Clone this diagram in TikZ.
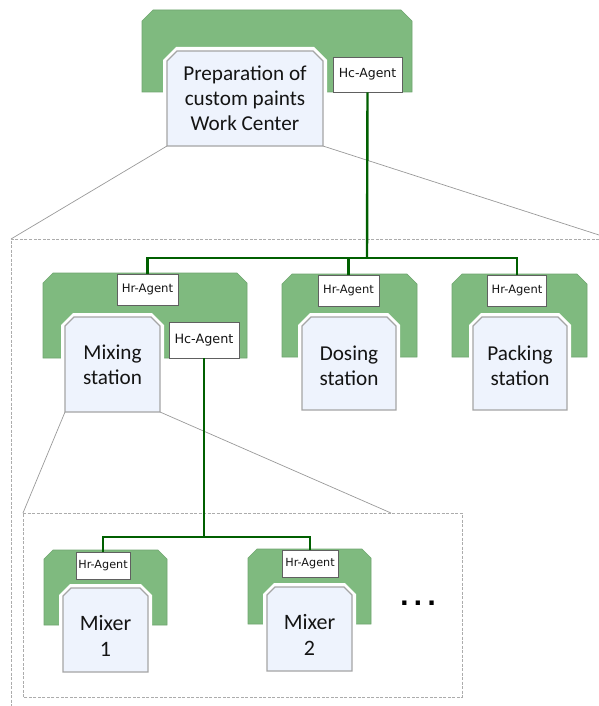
\documentclass[tikz,border=0pt]{standalone}
\usepackage{fontspec}
\setmainfont{Carlito}
\newfontfamily\agentfont{DejaVu Sans}
\newfontfamily\dotfont{DejaVu Sans}
\definecolor{grn}{RGB}{127,186,127}
\definecolor{grnedge}{RGB}{110,165,110}
\definecolor{dkgreen}{RGB}{0,95,0}
\definecolor{bfill}{RGB}{238,243,253}
\definecolor{bedge}{RGB}{165,165,165}
\definecolor{txt}{RGB}{20,20,20}
\newcommand\chamf[6]{\path[#1] (#2,#5) -- (#2,#3+#6) -- (#2+#6,#3) -- (#4-#6,#3) -- (#4,#3+#6) -- (#4,#5) -- cycle;}
\tikzset{
  greenbody/.style={fill=grn, draw=grnedge, line width=0.6},
  halo/.style={fill=white},
  bluebox/.style={fill=bfill, draw=bedge, line width=1.3},
  agent/.style={draw=gray!75!black, fill=white, line width=0.8, inner sep=0, text=txt},
  link/.style={draw=dkgreen, line width=2.4},
  label/.style={align=center, inner sep=0, text=txt},
  zoomline/.style={draw=gray!80, line width=0.7},
  zoombox/.style={draw=gray!65, dash pattern=on 3pt off 1.5pt, line width=0.8},
}
\begin{document}
\begin{tikzpicture}[x=1pt,y=-1pt]
\useasboundingbox (0,0) rectangle (599,706);
% zoom boxes
\coordinate (ob) at (11,239);
\coordinate (obr) at (599,239);
\coordinate (obb) at (11,706);
\draw[zoombox] (obr) -- (ob) -- (obb);
\coordinate (ib1) at (23,513);
\coordinate (ib2) at (462,513);
\coordinate (ib3) at (462,697);
\coordinate (ib4) at (23,697);
\draw[zoombox] (ib1) -- (ib2) -- (ib3) -- (ib4) -- cycle;
% ---------- top work center
\chamf{greenbody}{142}{10}{412}{92}{11}
\chamf{halo}{163}{47}{327}{150}{13}
\chamf{bluebox}{167}{51}{323}{146}{10}
\node[label, font=\fontsize{21.2}{25}\selectfont] (wc) at (245,98) {Preparation of\\custom paints\\Work Center};
\node[agent, minimum width=69, minimum height=35, font=\agentfont\fontsize{12.5}{14}\selectfont] (hc0) at (367.5,74.5) {Hc-Agent};
\coordinate (wcbl) at (167,146);
\coordinate (wcbr) at (323,146);
\coordinate (obx) at (599,235);
\draw[zoomline] (wcbl) -- (ob);
\draw[zoomline] (wcbr) -- (obx);
% ---------- mixing station
\chamf{greenbody}{43}{273}{247}{358}{10}
\chamf{halo}{61}{313}{164}{416}{12}
\chamf{bluebox}{65}{317}{160}{412}{9}
\node[label, font=\fontsize{21.2}{25}\selectfont] (ms) at (112.5,365) {Mixing\\station};
\node[agent, minimum width=61, minimum height=31, font=\agentfont\fontsize{11.7}{13}\selectfont] (hr1) at (147.5,289.5) {Hr-Agent};
\node[agent, minimum width=70, minimum height=36, font=\agentfont\fontsize{12.8}{14}\selectfont] (hc1) at (204,340) {Hc-Agent};
\coordinate (msbl) at (65,412);
\coordinate (msbr) at (160,412);
\draw[zoomline] (msbl) -- (ib1);
\coordinate (ibx) at (391,513);
\draw[zoomline] (msbr) -- (ibx);
% ---------- dosing station
\chamf{greenbody}{282}{274}{417}{357}{10}
\chamf{halo}{298}{313}{400}{414}{12}
\chamf{bluebox}{302}{317}{396}{410}{9}
\node[label, font=\fontsize{21.2}{25}\selectfont] (ds) at (349,366) {Dosing\\station};
\node[agent, minimum width=61, minimum height=31, font=\agentfont\fontsize{11.5}{13}\selectfont] (hr2) at (348.5,290.5) {Hr-Agent};
% ---------- packing station
\chamf{greenbody}{452}{274}{587}{357}{10}
\chamf{halo}{469}{313}{571}{414}{12}
\chamf{bluebox}{473}{317}{567}{410}{9}
\node[label, font=\fontsize{21.2}{25}\selectfont] (ps) at (520,366) {Packing\\station};
\node[agent, minimum width=59, minimum height=31, font=\agentfont\fontsize{11.5}{13}\selectfont] (hr3) at (517,290.5) {Hr-Agent};
% ---------- mixer 1
\chamf{greenbody}{44}{550}{167}{625}{9}
\chamf{halo}{59}{584}{152}{676}{11}
\chamf{bluebox}{63}{588}{148}{672}{8}
\node[label, font=\fontsize{22}{26}\selectfont] (m1) at (105.5,636) {Mixer\\1};
\node[agent, minimum width=54, minimum height=27, font=\agentfont\fontsize{11.2}{13}\selectfont] (hr4) at (103,565.5) {Hr-Agent};
% ---------- mixer 2
\chamf{greenbody}{248}{549}{371}{624}{9}
\chamf{halo}{263}{583}{356}{675}{11}
\chamf{bluebox}{267}{587}{352}{671}{8}
\node[label, font=\fontsize{22}{26}\selectfont] (m2) at (309.5,635) {Mixer\\2};
\node[agent, minimum width=56, minimum height=27, font=\agentfont\fontsize{11.2}{13}\selectfont] (hr5) at (310,563.5) {Hr-Agent};
% dots
\node[inner sep=0, font=\dotfont\bfseries\fontsize{24}{24}\selectfont] (dots) at (418,603) {.\hspace{4.5pt}.\hspace{4.5pt}.};
% ---------- connectors
\coordinate (bus1) at (367,258);
\draw[link] (hc0.south) -- (bus1);
\draw[link] (hr1.north) |- (bus1) -| (hr3.north);
\draw[link] (bus1) -| (hr2.north);
\coordinate (bus2) at (204,537);
\draw[link] (hc1.south) -- (bus2);
\draw[link] (hr4.north) |- (bus2) -| (hr5.north);
\end{tikzpicture}
\end{document}
